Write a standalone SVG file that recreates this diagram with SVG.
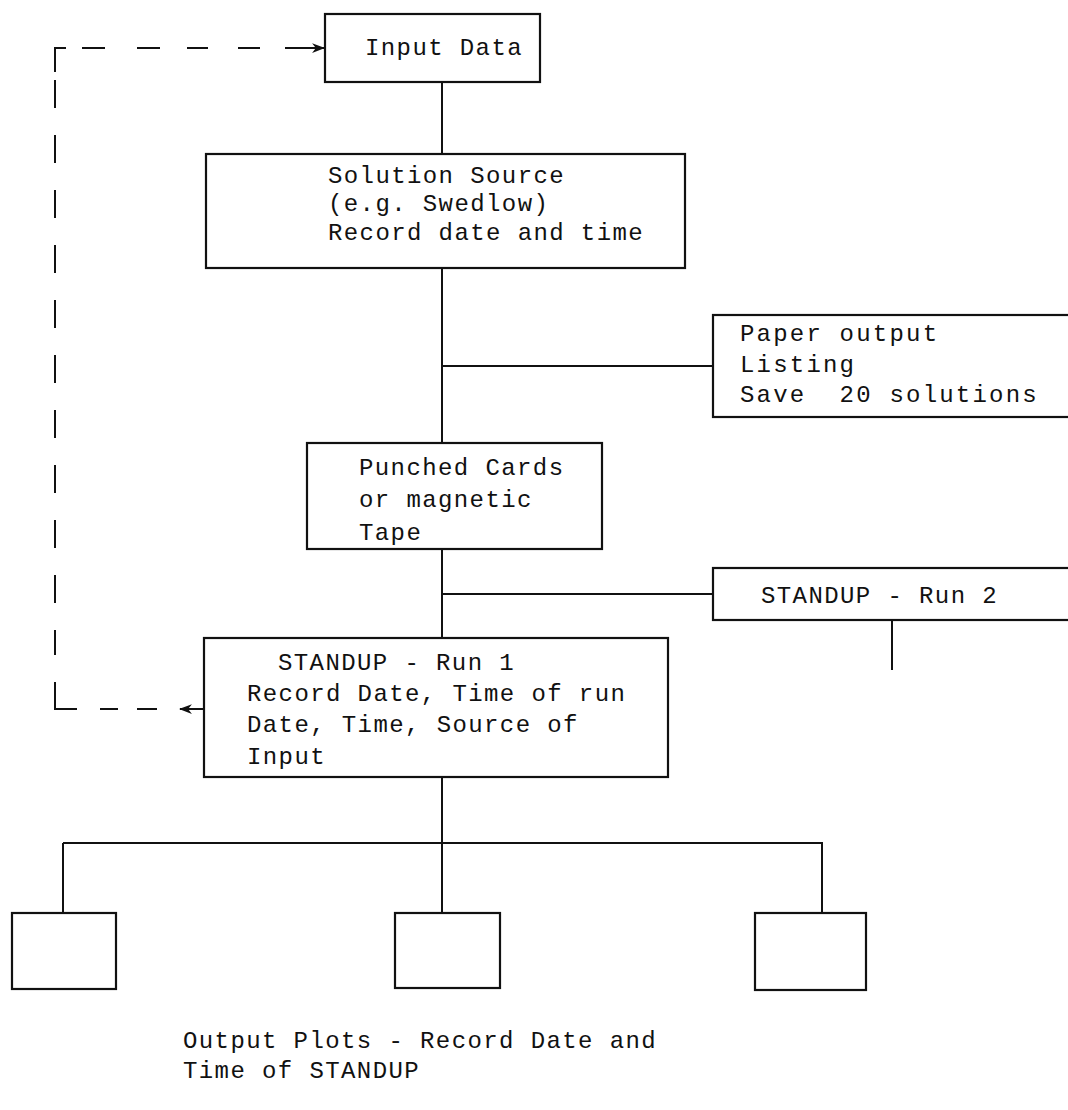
<svg xmlns="http://www.w3.org/2000/svg" width="1068" height="1110" viewBox="0 0 1068 1110">
<defs>
<style>
.box{fill:#fff;stroke:#111;stroke-width:2.2}
.ln{fill:none;stroke:#111;stroke-width:2}
.dash{fill:none;stroke:#111;stroke-width:2}
.vd{fill:none;stroke:#111;stroke-width:2;stroke-dasharray:28 27}
text{font-family:"Liberation Mono","DejaVu Sans Mono",monospace;font-size:24px;letter-spacing:1.4px;fill:#111}
.wide{letter-spacing:2.2px}
</style>
<marker id="ah" viewBox="0 0 12 10" refX="11" refY="5" markerWidth="13" markerHeight="11" markerUnits="userSpaceOnUse" orient="auto">
<path d="M0,0.5 L12,5 L0,9.5 L3.5,5 Z" fill="#111"/>
</marker>
</defs>
<rect width="1068" height="1110" fill="#fff"/>

<g id="connectors">
<line class="ln" x1="442" y1="82" x2="442" y2="154"/>
<line class="ln" x1="442" y1="268" x2="442" y2="443"/>
<line class="ln" x1="442" y1="366" x2="713" y2="366"/>
<line class="ln" x1="442" y1="549" x2="442" y2="638"/>
<line class="ln" x1="442" y1="594" x2="713" y2="594"/>
<line class="ln" x1="892" y1="620" x2="892" y2="670"/>
<line class="ln" x1="442" y1="777" x2="442" y2="843"/>
<line class="ln" x1="63" y1="843" x2="823" y2="843"/>
<line class="ln" x1="63" y1="843" x2="63" y2="913"/>
<line class="ln" x1="442" y1="843" x2="442" y2="913"/>
<line class="ln" x1="822" y1="843" x2="822" y2="913"/>
<!-- dashed feedback loop -->
<path class="dash" d="M55,72 V48 H66"/>
<path class="vd" d="M55,80 V655"/>
<path class="dash" d="M55,682 V709 H77"/>
<path class="dash" d="M82,48 H105 M137,48 H160 M187,48 H208 M238,48 H260"/>
<line class="dash" x1="285" y1="48" x2="324" y2="48" marker-end="url(#ah)"/>
<path class="dash" d="M100,709 H118 M137,709 H157"/>
<line class="dash" x1="204" y1="709" x2="180" y2="709" marker-end="url(#ah)"/>
</g>

<g id="input-data">
<rect class="box" x="325" y="14" width="215" height="68"/>
<text x="365" y="55">Input Data</text>
</g>

<g id="solution-source">
<rect class="box" x="206" y="154" width="479" height="114"/>
<text x="328" y="183">Solution Source</text>
<text x="328" y="211">(e.g. Swedlow)</text>
<text x="328" y="240">Record date and time</text>
</g>

<g id="paper-output">
<rect class="box" x="713" y="315" width="370" height="102"/>
<text class="wide" x="740" y="341">Paper output</text>
<text class="wide" x="740" y="372">Listing</text>
<text class="wide" x="740" y="402" xml:space="preserve">Save  20 solutions</text>
</g>

<g id="punched-cards">
<rect class="box" x="307" y="443" width="295" height="106"/>
<text x="359" y="475">Punched Cards</text>
<text x="359" y="507">or magnetic</text>
<text x="359" y="540">Tape</text>
</g>

<g id="standup-run2">
<rect class="box" x="713" y="568" width="370" height="52"/>
<text x="761" y="603">STANDUP - Run 2</text>
</g>

<g id="standup-run1">
<rect class="box" x="204" y="638" width="464" height="139"/>
<text x="278" y="670">STANDUP - Run 1</text>
<text x="247" y="701">Record Date, Time of run</text>
<text x="247" y="732">Date, Time, Source of</text>
<text x="247" y="764">Input</text>
</g>

<g id="plot-1"><rect class="box" x="12" y="913" width="104" height="76"/></g>
<g id="plot-2"><rect class="box" x="395" y="913" width="105" height="75"/></g>
<g id="plot-3"><rect class="box" x="755" y="913" width="111" height="77"/></g>

<g id="caption">
<text x="183" y="1048">Output Plots - Record Date and</text>
<text x="183" y="1078">Time of STANDUP</text>
</g>
</svg>
